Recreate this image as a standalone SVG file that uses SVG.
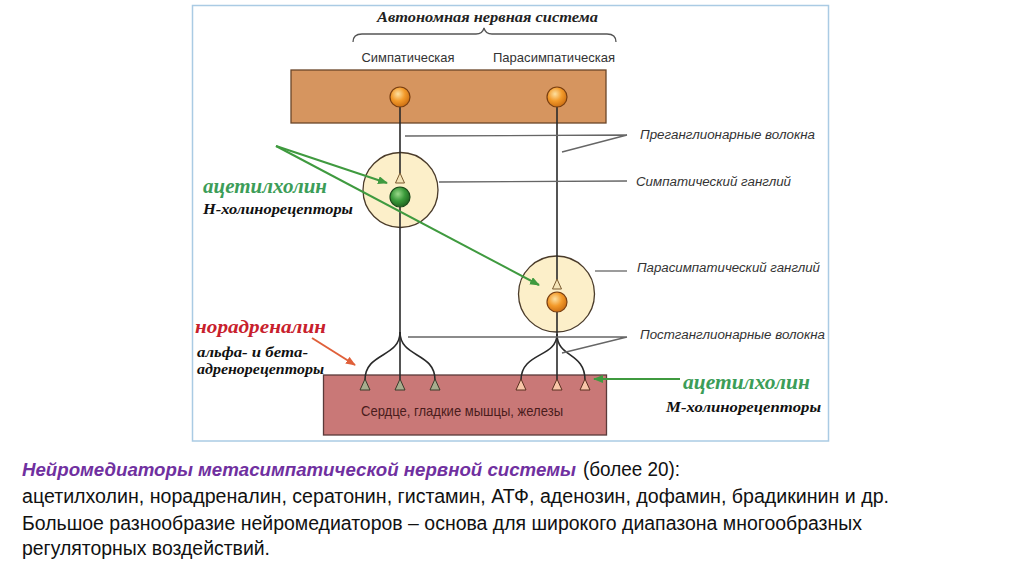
<svg xmlns="http://www.w3.org/2000/svg" width="1024" height="574" viewBox="0 0 1024 574">
<defs>
<radialGradient id="gOr" cx="0.4" cy="0.35" r="0.7"><stop offset="0" stop-color="#fde0a0"/><stop offset="0.5" stop-color="#f39a2a"/><stop offset="1" stop-color="#c86a10"/></radialGradient>
<radialGradient id="gGr" cx="0.4" cy="0.35" r="0.7"><stop offset="0" stop-color="#9ad88a"/><stop offset="0.5" stop-color="#3a9a3a"/><stop offset="1" stop-color="#1d5e1d"/></radialGradient>
<marker id="ahG" markerWidth="10" markerHeight="8" refX="9" refY="4" orient="auto" markerUnits="userSpaceOnUse"><path d="M0,0 L10,4 L0,8 z" fill="#3f9a3f"/></marker>
<marker id="ahR" markerWidth="10" markerHeight="8" refX="9" refY="4" orient="auto" markerUnits="userSpaceOnUse"><path d="M0,0 L10,4 L0,8 z" fill="#e0603a"/></marker>
</defs>
<style>
.ser{font-family:"Liberation Serif","Times New Roman",serif;font-style:italic;font-weight:bold}
.sans{font-family:"Liberation Sans",Arial,sans-serif}
.lbl{font-family:"Liberation Sans",Arial,sans-serif;font-style:italic;font-size:12.5px;fill:#333}
.lead{stroke:#666;stroke-width:1.3;fill:none}
.axon{stroke:#2a2a2a;stroke-width:1.6;fill:none}
.ggl{fill:#fcefc9;stroke:#4a3b2a;stroke-width:1.3}
.syn{fill:#f4e4b8;stroke:#7a5a30;stroke-width:1}
.tL{fill:#a7ad8e;stroke:#3a3a2a;stroke-width:1}
.tR{fill:#f8c6a8;stroke:#5a3020;stroke-width:1}
.body{font-family:"Liberation Sans",Arial,sans-serif;font-size:19.5px;fill:#111}
.purp{font-family:"Liberation Sans",Arial,sans-serif;font-size:18px;fill:#7030a0;font-style:italic;font-weight:bold}
.garr{stroke:#3f9a3f;stroke-width:2;fill:none}
</style>
<rect x="192.5" y="5.5" width="636" height="435.5" fill="#ffffff" stroke="#aacbe4" stroke-width="1.5"/>
<g id="title">
<text class="ser" x="487.5" y="22" font-size="15.5" text-anchor="middle" fill="#222" textLength="221" lengthAdjust="spacingAndGlyphs">Автономная нервная система</text>
<path d="M353,42 C353,36 356,34 362,34 L476,34 C481,34 483,32 484,28 C485,32 487,34 492,34 L607,34 C613,34 616,36 616,42" stroke="#555" stroke-width="1.3" fill="none"/>
<text class="sans" x="408" y="62" font-size="13" text-anchor="middle" fill="#333" textLength="93" lengthAdjust="spacingAndGlyphs">Симпатическая</text>
<text class="sans" x="554" y="62" font-size="13" text-anchor="middle" fill="#333" textLength="122" lengthAdjust="spacingAndGlyphs">Парасимпатическая</text>
</g>
<g id="cns">
<rect x="291" y="70" width="315" height="53" fill="#d6955f" stroke="#6a4628" stroke-width="1.3"/>
</g>
<g id="effector">
<rect x="323.5" y="375" width="283" height="60" fill="#c97877" stroke="#5a3a3a" stroke-width="1.3"/>
<text class="sans" x="462" y="416" font-size="15" text-anchor="middle" fill="#4a1c1c" textLength="202" lengthAdjust="spacingAndGlyphs">Сердце, гладкие мышцы, железы</text>
</g>
<g id="symp-ganglion">
<circle class="ggl" cx="400.5" cy="190" r="37.5"/>
</g>
<g id="para-ganglion">
<circle class="ggl" cx="556.5" cy="294" r="38"/>
</g>
<g id="connectors">
<path class="axon" d="M400,106 L400,174"/>
<path class="axon" d="M400,207 L400,380"/>
<path class="axon" d="M400,332 C400,358 365,352 365,380"/>
<path class="axon" d="M400,332 C400,358 435,352 435,380"/>
<path class="axon" d="M557,106 L557,280"/>
<path class="axon" d="M557,312 L557,380"/>
<path class="axon" d="M557,334 C557,358 521,352 521,380"/>
<path class="axon" d="M557,334 C557,358 585,352 585,380"/>
<path class="lead" d="M405,136 L627,135 M562,152 L627,135"/>
<path class="lead" d="M439,182 L627,181"/>
<path class="lead" d="M595,271 L627,271"/>
<path class="lead" d="M408,337 L627,337 M562,353 L627,337"/>
<path class="garr" d="M276,146 L387,183" marker-end="url(#ahG)"/>
<path class="garr" d="M276,146 L539,285" marker-end="url(#ahG)"/>
<path class="garr" d="M680,379 L594,379" marker-end="url(#ahG)"/>
<path d="M312,338 L355,365" stroke="#e0603a" stroke-width="2" fill="none" marker-end="url(#ahR)"/>
</g>
<g id="neuron-symp-pre">
<circle cx="400" cy="97" r="10" fill="url(#gOr)" stroke="#7a3f10" stroke-width="1.2"/>
<polygon class="syn" points="395.5,183 400,173 404.5,183"/>
</g>
<g id="neuron-symp-post">
<circle cx="400" cy="197" r="10" fill="url(#gGr)" stroke="#1a4a1a" stroke-width="1.2"/>
<polygon class="tL" points="360,390 365,379 370,390"/>
<polygon class="tL" points="395,390 400,379 405,390"/>
<polygon class="tL" points="430,390 435,379 440,390"/>
</g>
<g id="neuron-para-pre">
<circle cx="557" cy="97" r="10" fill="url(#gOr)" stroke="#7a3f10" stroke-width="1.2"/>
<polygon class="syn" points="552.5,289 557,279 561.5,289"/>
</g>
<g id="neuron-para-post">
<circle cx="557" cy="302" r="10" fill="url(#gOr)" stroke="#7a3f10" stroke-width="1.2"/>
<polygon class="tR" points="516,390 521,379 526,390"/>
<polygon class="tR" points="552,390 557,379 562,390"/>
<polygon class="tR" points="580,390 585,379 590,390"/>
</g>
<g id="labels">
<text class="lbl" x="640" y="139" textLength="175" lengthAdjust="spacingAndGlyphs">Преганглионарные  волокна</text>
<text class="lbl" x="636" y="186" textLength="155" lengthAdjust="spacingAndGlyphs">Симпатический  ганглий</text>
<text class="lbl" x="637" y="272" textLength="183" lengthAdjust="spacingAndGlyphs">Парасимпатический  ганглий</text>
<text class="lbl" x="640" y="339" textLength="185" lengthAdjust="spacingAndGlyphs">Постганглионарные  волокна</text>
</g>
<g id="ach-n">
<text class="ser" x="203" y="193" font-size="20" fill="#3c9d58" textLength="124" lengthAdjust="spacingAndGlyphs">ацетилхолин</text>
<text class="ser" x="203" y="214" font-size="14" fill="#111" textLength="150" lengthAdjust="spacingAndGlyphs">Н-холинорецепторы</text>
</g>
<g id="norad">
<text class="ser" x="195" y="333" font-size="19" fill="#c8202c" textLength="131" lengthAdjust="spacingAndGlyphs">норадреналин</text>
<text class="ser" x="197" y="357" font-size="14" fill="#111" textLength="111" lengthAdjust="spacingAndGlyphs">альфа- и бета-</text>
<text class="ser" x="197" y="374" font-size="14" fill="#111" textLength="127" lengthAdjust="spacingAndGlyphs">адренорецепторы</text>
</g>
<g id="ach-m">
<text class="ser" x="683" y="389" font-size="20" fill="#3c9d58" textLength="127" lengthAdjust="spacingAndGlyphs">ацетилхолин</text>
<text class="ser" x="666" y="412" font-size="14" fill="#111" textLength="155" lengthAdjust="spacingAndGlyphs">М-холинорецепторы</text>
</g>
<g id="caption">
<text class="purp" x="22" y="476" textLength="554" lengthAdjust="spacingAndGlyphs">Нейромедиаторы метасимпатической нервной системы</text>
<text class="body" x="583" y="476" textLength="97" lengthAdjust="spacingAndGlyphs">(более 20):</text>
<text class="body" x="22" y="503" textLength="867" lengthAdjust="spacingAndGlyphs">ацетилхолин, норадреналин, сератонин, гистамин, АТФ, аденозин, дофамин, брадикинин и др.</text>
<text class="body" x="22" y="530" textLength="840" lengthAdjust="spacingAndGlyphs">Большое разнообразие нейромедиаторов – основа для широкого диапазона многообразных</text>
<text class="body" x="22" y="555" textLength="248" lengthAdjust="spacingAndGlyphs">регуляторных воздействий.</text>
</g>
</svg>
